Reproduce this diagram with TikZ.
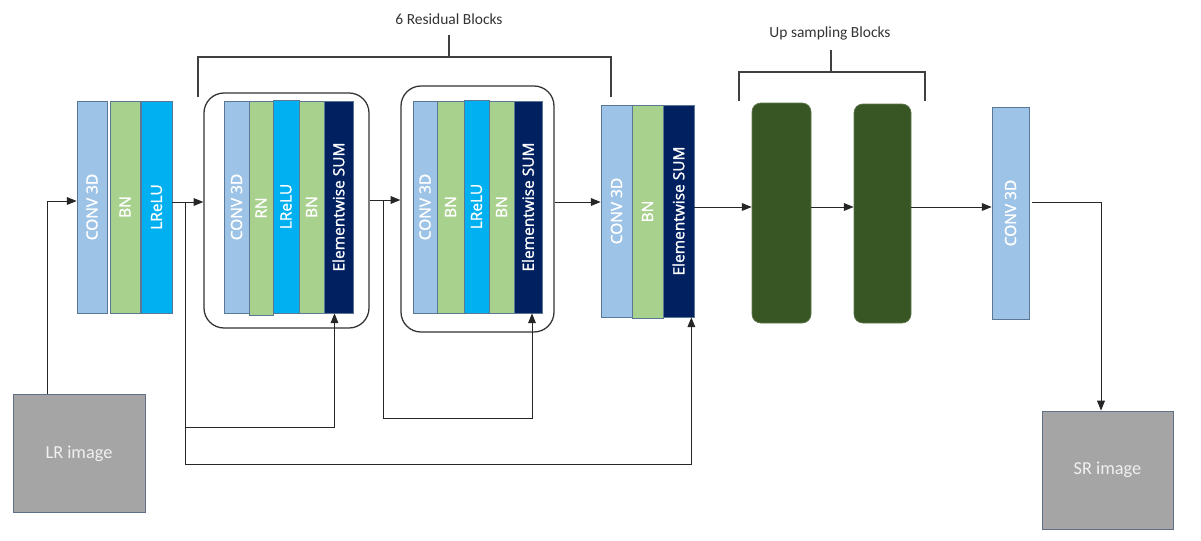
\documentclass[tikz,border=0pt]{standalone}
\usepackage{fontspec}
\setmainfont{Carlito}
\newfontfamily\stripfont{Open Sans}[FakeBold=1.4]
\usetikzlibrary{arrows.meta}

\definecolor{convblue}{HTML}{9DC3E6}
\definecolor{bngreen}{HTML}{A9D18E}
\definecolor{relublue}{HTML}{00B0F0}
\definecolor{sumnavy}{HTML}{002060}
\definecolor{upgreen}{HTML}{375623}
\definecolor{imggray}{HTML}{A5A5A5}
\definecolor{imgedge}{HTML}{5E6F86}
\definecolor{stripedge}{HTML}{5A7796}

\tikzset{
  layer/.style={draw=stripedge, line width=0.5pt, inner sep=0pt, text=white,
    font=\stripfont\fontsize{11}{13}\selectfont},
  resbox/.style={draw=black!80, line width=0.9pt, rounded corners=0.5cm},
  upblock/.style={draw=upgreen!80!white, fill=upgreen, rounded corners=0.22cm, line width=0.5pt},
  imgbox/.style={draw=imgedge, fill=imggray, text=white!94!black, line width=0.6pt,
    font=\fontsize{13}{15}\selectfont},
  brace/.style={draw=black!75, line width=0.8pt},
  conn/.style={black!85, line width=0.7pt, -{Triangle[length=7pt,width=5.5pt]}},
  link/.style={black!85, line width=0.7pt}
}

\begin{document}
\begin{tikzpicture}[x=0.025cm, y=-0.025cm]
  \useasboundingbox (0,0) rectangle (1201,540);

  % residual frames
  \node[resbox, minimum width={165*0.025cm}, minimum height={235*0.025cm}] (res1) at (286.5,210.5) {};
  \node[resbox, minimum width={153*0.025cm}, minimum height={246*0.025cm}] (res2) at (477.5,209) {};

  % layer strips
  \foreach \n/\xa/\xb/\ya/\yb/\c/\t in {
      conv1/77/107/101/313/convblue/CONV 3D, bn1/110/140/101/313/bngreen/BN, relu1/141/172/101/313/relublue/LReLU,
      conv2/224/249/101/313/convblue/CONV 3D, bn2/249/273/101/315/bngreen/RN, relu2/273/299/100/313/relublue/LReLU,
      bn3/299/324/101/313/bngreen/BN, sum1/324/353/101/313/sumnavy/Elementwise SUM,
      conv3/413/437/101/313/convblue/CONV 3D, bn4/437/464/101/313/bngreen/BN, relu3/464/489/100/313/relublue/LReLU,
      bn5/489/514/101/313/bngreen/BN, sum2/514/542/101/313/sumnavy/Elementwise SUM,
      conv4/601/632/105/317/convblue/CONV 3D, bn6/632/663/105/318/bngreen/BN, sum3/663/694/105/317/sumnavy/Elementwise SUM,
      conv5/992/1029/107/319/convblue/CONV 3D}
    \node[layer, fill=\c, minimum width={(\xb-\xa)*0.025cm}, minimum height={(\yb-\ya)*0.025cm}]
      (\n) at ({(\xa+\xb)/2},{(\ya+\yb)/2}) {\rotatebox{90}{\t}};

  % up sampling blocks
  \node[upblock, minimum width={59*0.025cm}, minimum height={220*0.025cm}] (up1) at (781.5,213) {};
  \node[upblock, minimum width={57*0.025cm}, minimum height={219*0.025cm}] (up2) at (882.5,213.5) {};

  % images
  \node[imgbox, minimum width={132*0.025cm}, minimum height={118*0.025cm}] (lr) at (79,453.5) {LR image};
  \node[imgbox, minimum width={131*0.025cm}, minimum height={118*0.025cm}] (sr) at (1107.5,470) {SR image};

  % brackets
  \node[font=\fontsize{11}{13}\selectfont, text=black!80] (reslabel) at (449,19) {6 Residual Blocks};
  \node[font=\fontsize{11}{13}\selectfont, text=black!80] (uplabel) at (830,33) {Up sampling Blocks};
  \draw[brace] (198,97) |- (611,57) -- (611,97);
  \draw[brace] (449,57) -- (449,35);
  \draw[brace] (739,101) |- (925,72) -- (925,101);
  \draw[brace] (831,72) -- (831,50);

  % taps
  \coordinate (in1) at (47,201);
  \coordinate (t1) at (185,202);
  \coordinate (t2) at (383,200);
  \coordinate (loop1) at (0,427);
  \coordinate (loop2) at (0,418);
  \coordinate (loop3) at (0,464);
  \coordinate (mid) at (0,207);
  \coordinate (o1) at (1101,202);

  % main flow
  \draw[conn] (lr.north -| in1) -- (in1) -- (conv1.west |- in1);
  \draw[conn] (relu1.east |- t1) -- (res1.west |- t1);
  \draw[conn] (res1.east |- t2) -- (res2.west |- t2);
  \draw[conn] (res2.east |- t1) -- (conv4.west |- t1);
  \draw[conn] (sum3.east |- mid) -- (up1.west |- mid);
  \draw[conn] (up1.east |- mid) -- (up2.west |- mid);
  \draw[conn] (up2.east |- mid) -- (conv5.west |- mid);
  \draw[conn] ([xshift=0.075cm]conv5.east |- o1) -- (o1) -- (sr.north -| o1);

  % skip connections
  \draw[conn] (t1) |- ([xshift=-0.1cm]sum1.south |- loop1) -- ([xshift=-0.1cm]sum1.south);
  \draw[conn] (t2) |- ([xshift=0.1cm]sum2.south |- loop2) -- ([xshift=0.1cm]sum2.south);
  \draw[conn] (t1) |- ([xshift=-0.075cm]sum3.south east |- loop3) -- ([xshift=-0.075cm]sum3.south east);
\end{tikzpicture}
\end{document}
